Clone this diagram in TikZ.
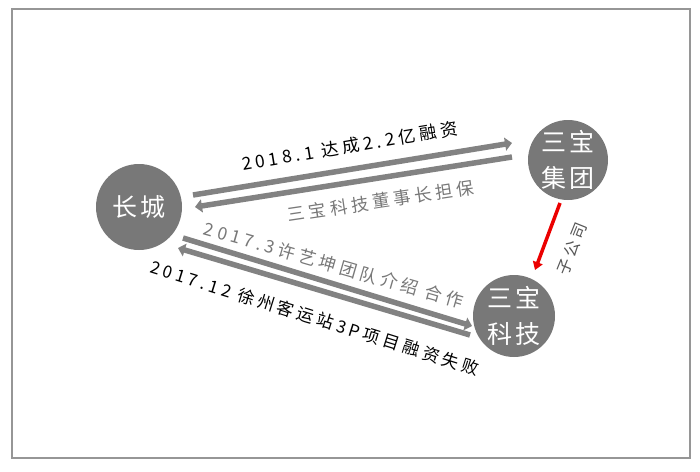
\documentclass[tikz,border=0pt]{standalone}
\usepackage{fontspec}
\usetikzlibrary{arrows.meta}
\newfontfamily\cjk{Noto Sans CJK SC}
\newfontfamily\cjkls[LetterSpace=15]{Noto Sans CJK SC}
\newfontfamily\cjklab[LetterSpace=22]{Noto Sans CJK SC}
\definecolor{circgray}{RGB}{120,120,120}
\definecolor{arrgray}{RGB}{130,130,130}
\definecolor{labgray}{RGB}{120,120,120}
\definecolor{darklab}{RGB}{85,85,85}
\definecolor{framegray}{RGB}{150,150,150}
\definecolor{linkred}{RGB}{235,0,0}
\tikzset{
  circ/.style={circle, fill=circgray, text=white, inner sep=0pt, align=center,
    font=\cjkls\fontsize{25}{36}\selectfont},
  garrow/.style={draw=arrgray, line width=5.5pt, -{Triangle[length=7pt,width=13pt]}},
  rarrow/.style={draw=linkred, line width=3.5pt, -{Triangle[length=8pt,width=10pt]}},
  lab/.style={inner sep=0pt, font=\cjklab\fontsize{17.5}{19}\selectfont},
}
\begin{document}
\begin{tikzpicture}[x=1pt,y=-1pt]
\useasboundingbox (0,0) rectangle (700,471);
\draw[framegray, line width=1.5pt] (12,9) rectangle (690,458);
\node[circ, minimum size=86pt] (cc) at (139,207) {长城};
\node[circ, minimum size=80pt] (sg) at (568,160) {三宝\\集团};
\node[circ, minimum size=82pt] (sk) at (514,316) {三宝\\科技};
% top pair
\draw[garrow] ([shift={(54,-12)}]cc.center) -- ([shift={(-56,-17)}]sg.center);
\draw[garrow] ([shift={(-56,-3)}]sg.center) -- ([shift={(56,0)}]cc.center);
% lower pair
\draw[garrow] ([shift={(44,31)}]cc.center) -- ([shift={(-42,10)}]sk.center);
\draw[garrow] ([shift={(-44,19)}]sk.center) -- ([shift={(39,41)}]cc.center);
% red
\draw[rarrow] ([shift={(-8,43)}]sg.center) -- ([shift={(21,-46)}]sk.center);
% labels
\node[lab, rotate=9.5] (l1) at (350,146) {2018.1 达成2.2亿融资};
\node[lab, rotate=8.5, text=labgray] (l2) at (381,201) {三宝科技董事长担保};
\node[lab, rotate=-16, text=labgray] (l3) at (334,265) {2017.3许艺坤团队介绍 合作};
\node[lab, rotate=-17.4, font=\cjklab\fontsize{17}{19}\selectfont] (l4) at (315,318) {2017.12 徐州客运站3P项目融资失败};
\node[inner sep=0pt, rotate=68, text=darklab, font=\cjklab\fontsize{16}{18}\selectfont] (l5) at (572,249) {子公司};
\end{tikzpicture}
\end{document}
